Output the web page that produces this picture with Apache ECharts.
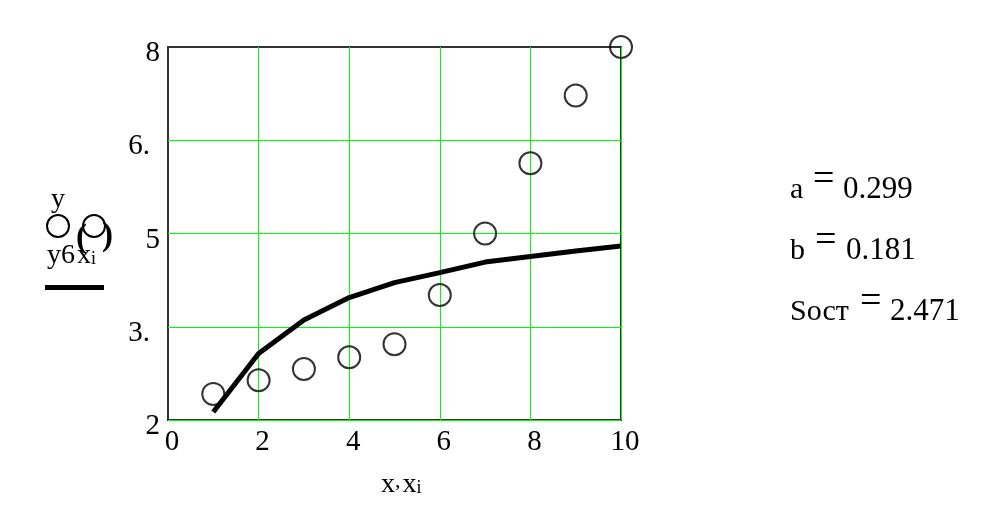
<!DOCTYPE html>
<html>
<head>
<meta charset="utf-8">
<script src="https://cdn.jsdelivr.net/npm/echarts@6/dist/echarts.min.js"></script>
<style>
html,body{margin:0;padding:0;background:#fff;}
#chart{width:981px;height:510px;}
</style>
</head>
<body>
<div id="chart"></div>
<script>
// ---- data ----
var xValues = [1, 2, 3, 4, 5, 6, 7, 8, 9, 10];
var yObserved = [2.42, 2.64, 2.82, 3.01, 3.22, 4.01, 5.00, 6.13, 7.22, 8.00];
var yFitted = [2.13, 3.07, 3.61, 3.97, 4.21, 4.37, 4.54, 4.63, 4.72, 4.80];
var yTickValues = [2, 3.5, 5, 6.5, 8];
var yTickLabels = ['2', '3.', '5', '6.', '8'];
var xTickValues = [0, 2, 4, 6, 8, 10];
var xTickLabels = ['0', '2', '4', '6', '8', '10'];
var params = [
  {name: 'a', value: '0.299'},
  {name: 'b', value: '0.181'},
  {name: 'Sост', value: '2.471'}
];

var FONT = 'Liberation Serif';
var GREEN = '#00ff00';

function pairs(xs, ys) { return xs.map(function (x, i) { return [x, ys[i]]; }); }

// split line colours (style): y-grid green at the labelled ticks except the top frame
var ySplitColors = [];
for (var v = 2; v <= 8 + 1e-9; v += 0.5) {
  var hit = yTickValues.some(function (t) { return Math.abs(t - v) < 1e-9; });
  ySplitColors.push(hit && Math.abs(v - 8) > 1e-9 ? GREEN : 'rgba(0,0,0,0)');
}
var xSplitColors = xTickValues.map(function (t) { return t === 0 ? 'rgba(0,0,0,0)' : GREEN; });

var chart = echarts.init(document.getElementById('chart'), null, {renderer: 'canvas'});

var graphics = [];
// legend
graphics.push({type: 'text', left: 51, top: 186, style: {text: 'y', font: '28px "' + FONT + '"', fill: '#000'}});
graphics.push({type: 'circle', shape: {cx: 58, cy: 226, r: 11}, style: {fill: 'none', stroke: '#000', lineWidth: 2}});
graphics.push({type: 'circle', shape: {cx: 94, cy: 226, r: 11}, style: {fill: 'none', stroke: '#000', lineWidth: 2}});
graphics.push({type: 'text', x: 76, y: 238, style: {text: '(', font: 'bold 33px "' + FONT + '"', fill: '#000', verticalAlign: 'middle'}});
graphics.push({type: 'text', x: 102, y: 236, style: {text: ')', font: 'bold 33px "' + FONT + '"', fill: '#000', verticalAlign: 'middle'}});
graphics.push({type: 'text', left: 47, top: 242, style: {text: 'y6', font: '28px "' + FONT + '"', fill: '#000'}});
graphics.push({type: 'text', left: 77, top: 242, style: {
  text: '{m|x}{s|i}', fill: '#000',
  rich: {m: {font: '28px "' + FONT + '"'}, s: {font: '18px "' + FONT + '"', padding: [6, 0, 0, 0]}}
}});
graphics.push({type: 'line', shape: {x1: 45, y1: 287.5, x2: 104, y2: 287.5}, style: {stroke: '#000', lineWidth: 5}});

// axis title
graphics.push({type: 'text', left: 381, top: 470, style: {
  text: '{m|x}{c|,}{m|x}{s|i}', fill: '#000',
  rich: {m: {font: '28px "' + FONT + '"'}, c: {font: '22px "' + FONT + '"', padding: [0, 2, 8, 0]}, s: {font: '18px "' + FONT + '"', padding: [6, 0, 0, 0]}}
}});

// parameter panel
var nameX = 790, eqX = [813, 815, 860], valX = [843, 846, 890], rowY = [190, 251, 312];
params.forEach(function (p, i) {
  graphics.push({type: 'text', x: nameX, y: rowY[i], style: {text: p.name, font: '30px "' + FONT + '"', fill: '#000', verticalAlign: 'middle'}});
  graphics.push({type: 'text', x: eqX[i], y: rowY[i] - 10, style: {text: '=', font: '38px "' + FONT + '"', fill: '#000', verticalAlign: 'middle'}});
  graphics.push({type: 'text', x: valX[i], y: rowY[i], style: {text: p.value, font: '31px "' + FONT + '"', fill: '#000', verticalAlign: 'middle'}});
});

var option = {
  backgroundColor: '#fff',
  animation: false,
  grid: {left: 168, right: 360, top: 47, bottom: 90, show: true, borderColor: '#333', borderWidth: 2, backgroundColor: 'transparent'},
  xAxis: {
    type: 'value', min: 0, max: 10, interval: 2,
    axisLine: {show: false}, axisTick: {show: false},
    axisLabel: {
      color: '#000', fontFamily: FONT, fontSize: 29, margin: 8, padding: [0, 0, 0, 8],
      showMinLabel: true, showMaxLabel: true,
      formatter: function (val) {
        var i = xTickValues.findIndex(function (t) { return Math.abs(t - val) < 1e-9; });
        return i >= 0 ? xTickLabels[i] : '';
      }
    },
    splitLine: {show: true, lineStyle: {color: xSplitColors, width: 1}}
  },
  yAxis: {
    type: 'value', min: 2, max: 8, interval: 0.5,
    axisLine: {show: false}, axisTick: {show: false},
    axisLabel: {
      color: '#000', fontFamily: FONT, fontSize: 29, margin: 8,
      showMinLabel: true, showMaxLabel: true,
      formatter: function (val) {
        var i = yTickValues.findIndex(function (t) { return Math.abs(t - val) < 1e-9; });
        if (i < 0) return '';
        var s = yTickLabels[i];
        return s.indexOf('.') >= 0 ? '{d|' + s + '}' : '{n|' + s + '}';
      },
      rich: {
        n: {fontFamily: FONT, fontSize: 29, color: '#000', padding: [13, 0, 0, 0]},
        d: {fontFamily: FONT, fontSize: 29, color: '#000', padding: [13, 10, 0, 0]}
      }
    },
    splitLine: {show: true, lineStyle: {color: ySplitColors, width: 1}}
  },
  series: [
    {
      name: 'y6(x)', type: 'line', data: pairs(xValues, yFitted),
      showSymbol: false, symbol: 'none', clip: false,
      lineStyle: {color: '#000', width: 5}, z: 3
    },
    {
      name: 'y', type: 'scatter', data: pairs(xValues, yObserved),
      symbol: 'circle', symbolSize: 22, clip: false,
      itemStyle: {color: 'rgba(0,0,0,0)', borderColor: '#000', borderWidth: 2}, z: 4
    }
  ],
  graphic: graphics
};
chart.setOption(option);
</script>
</body>
</html>
